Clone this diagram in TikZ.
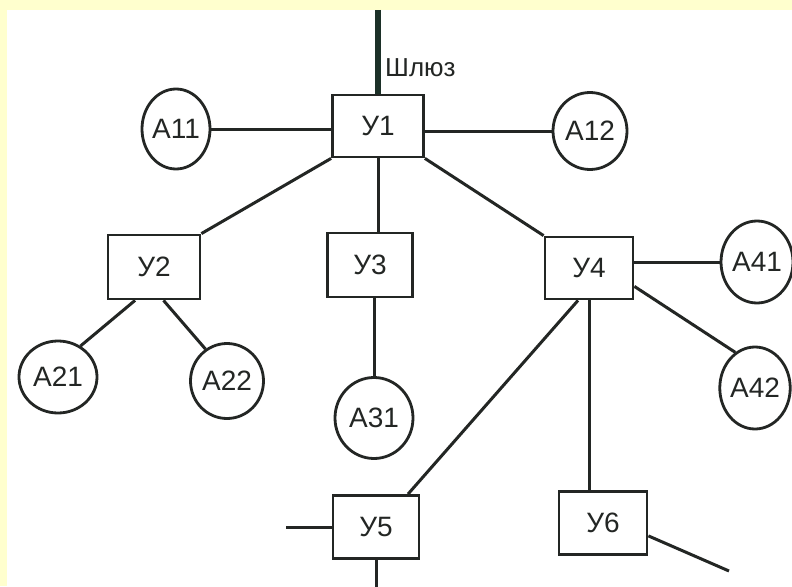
\documentclass[tikz,border=0pt]{standalone}
\usepackage{fontspec}
\setmainfont{Liberation Sans}
\usetikzlibrary{shapes.geometric,calc}
\definecolor{ink}{RGB}{35,38,36}
\definecolor{gwink}{RGB}{28,48,40}
\definecolor{frame}{RGB}{255,255,206}
\begin{document}
\begin{tikzpicture}[x=1pt,y=-1pt,
  box/.style={draw=ink, line width=2.8pt, rectangle, inner sep=0pt, text=ink,
    font=\fontsize{28}{28}\selectfont},
  term/.style={draw=ink, line width=2.8pt, ellipse, inner sep=0pt, text=ink,
    font=\fontsize{28}{28}\selectfont},
  link/.style={draw=ink, line width=3pt},
  gate/.style={draw=gwink, line width=6.5pt}]
\fill[frame] (0,0) rectangle (792,586);
\fill[white] (7,10) rectangle (792,586);
\useasboundingbox (0,0) rectangle (792,586);

% switching nodes
\node[box, minimum width=91pt, minimum height=62pt] (u1) at (378,126) {У1};
\node[box, minimum width=92pt, minimum height=64pt] (u2) at (154,267) {У2};
\node[box, minimum width=85pt, minimum height=64pt] (u3) at (370,265) {У3};
\node[box, minimum width=88pt, minimum height=62pt] (u4) at (589,268) {У4};
\node[box, minimum width=86pt, minimum height=63pt] (u5) at (376,527) {У5};
\node[box, minimum width=88pt, minimum height=63pt] (u6) at (603,523) {У6};

% terminals
\node[term, minimum width=68pt, minimum height=80pt] (a11) at (176,129) {A11};
\node[term, minimum width=74pt, minimum height=77pt] (a12) at (590,131) {A12};
\node[term, minimum width=78pt, minimum height=72pt] (a21) at (58,377) {A21};
\node[term, minimum width=73pt, minimum height=75pt] (a22) at (227,381) {A22};
\node[term, minimum width=78pt, minimum height=81pt] (a31) at (374,418) {A31};
\node[term, minimum width=72pt, minimum height=82pt] (a41) at (757,262) {A41};
\node[term, minimum width=66pt, minimum height=82pt] (a42) at (755,388) {A42};

% gateway
\coordinate (gw) at (378,10);
\draw[gate] (gw) -- (u1.north);
\node[anchor=west, text=ink, font=\fontsize{26}{26}\selectfont, inner sep=0pt] (gwlabel) at (385,68) {Шлюз};

% free ends
\coordinate (u5l) at (286,527);
\coordinate (u5b) at (376,590);
\coordinate (u6e) at (729,571);

% connectors
\draw[link] (a11.east) -- (a11.east -| u1.west);
\draw[link] (a12.west) -- (a12.west -| u1.east);
\draw[link] (u1.south west) -- (u2.north east);
\draw[link] (u1.south) -- (u1.south |- u3.north);
\draw[link] (u1.south east) -- (u4.north west);
\draw[link] ($(u2.south west)!0.30!(u2.south east)$) -- (a21.54);
\draw[link] ($(u2.south west)!0.60!(u2.south east)$) -- (a22.124);
\draw[link] (a31.north) -- (a31.north |- u3.south);
\draw[link] (a41.west) -- (a41.west -| u4.east);
\draw[link] ($(u4.south east)+(0,-14)$) -- (a42.119);
\draw[link] ($(u4.south)+(-11,0)$) -- ($(u5.north)+(32,0)$);
\draw[link] (u4.south) -- (u4.south |- u6.north);
\draw[link] (u5l) -- (u5l -| u5.west);
\draw[link] (u5.south) -- (u5b);
\draw[link] ($(u6.south east)+(0,-20)$) -- (u6e);
\end{tikzpicture}
\end{document}
